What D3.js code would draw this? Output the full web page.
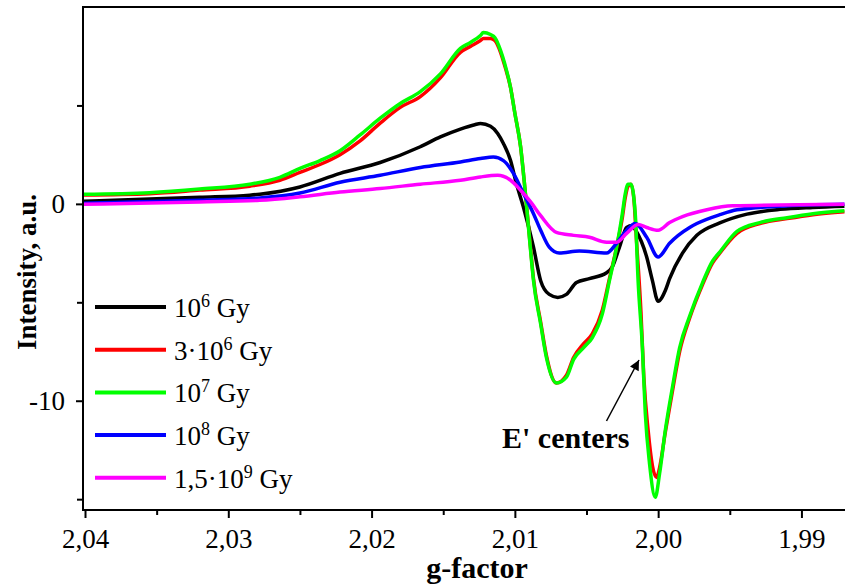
<!DOCTYPE html>
<html>
<head>
<meta charset="utf-8">
<script src="https://cdn.jsdelivr.net/npm/d3@7"></script>
<style>
  html, body { margin: 0; padding: 0; background: #fff; }
  svg { display: block; }
  text { font-family: "Liberation Serif", "Times New Roman", serif; fill: #000; }
</style>
</head>
<body>
<svg id="chart" width="845" height="588"></svg>
<script>
// ---------- data (g-factor, intensity in a.u.) ----------
const seriesNames = ["1e6", "3e6", "1e7", "1e8", "1.5e9"];
const seriesColors = ["#000000", "#ff0000", "#00ff00", "#0000ff", "#ff00ff"];

const g_1e6 = [2.0401, 2.0320, 2.0285, 2.0278, 2.0250, 2.0222, 2.0194, 2.0166, 2.0152, 2.0138, 2.0128, 2.0124, 2.0117, 2.0112, 2.0108, 2.0103, 2.0099, 2.0094, 2.0087, 2.0082, 2.0076, 2.0070, 2.0064, 2.0057, 2.0048, 2.0036, 2.0032, 2.0027, 2.0022, 2.0018, 2.0016, 2.0008, 2.0004, 2.0000, 1.9995, 1.9992, 1.9983, 1.9973, 1.9957, 1.9938, 1.9915, 1.9892, 1.9870];
const i_1e6 = [0.13, 0.33, 0.44, 0.49, 0.86, 1.55, 2.1, 2.9, 3.4, 3.8, 4.02, 4.08, 3.94, 3.58, 3.07, 2.2, 1.04, -0.17, -2.2, -3.9, -4.6, -4.75, -4.6, -4.0, -3.8, -3.5, -3.2, -2.2, -1.2, -1.1, -1.3, -2.7, -3.9, -4.95, -4.4, -3.8, -2.5, -1.6, -0.97, -0.52, -0.28, -0.18, -0.12];

const g_3e6 = [2.0401, 2.0355, 2.0320, 2.0285, 2.0264, 2.0250, 2.0236, 2.0222, 2.0208, 2.0194, 2.0180, 2.0166, 2.0152, 2.0138, 2.0131, 2.0124, 2.0122, 2.0117, 2.0114, 2.0110, 2.0107, 2.0103, 2.0100, 2.0096, 2.0093, 2.0089, 2.0087, 2.0082, 2.0078, 2.0071, 2.0064, 2.0059, 2.0052, 2.0046, 2.0039, 2.0034, 2.0029, 2.0025, 2.0023, 2.0021, 2.0019, 2.0017, 2.0015, 2.0012, 2.0010, 2.0007, 2.0004, 2.0001, 1.9999, 1.9995, 1.9990, 1.9985, 1.9978, 1.9969, 1.9962, 1.9957, 1.9945, 1.9929, 1.9910, 1.9892, 1.9870];
const i_3e6 = [0.45, 0.52, 0.7, 0.9, 1.2, 1.6, 2.0, 2.5, 3.2, 4.1, 4.9, 5.45, 6.4, 7.7, 8.0, 8.3, 8.4, 8.4, 8.3, 7.7, 7.0, 5.9, 4.6, 2.9, 0.8, -2.3, -3.8, -6.0, -7.7, -9.1, -8.7, -7.8, -7.1, -6.6, -5.4, -3.8, -2.2, -0.7, 0.3, 0.9, 1.0, 0.3, -2.0, -5.5, -8.8, -11.5, -13.3, -13.9, -13.4, -11.6, -9.5, -7.5, -5.8, -4.1, -3.0, -2.5, -1.5, -1.0, -0.75, -0.55, -0.4];

const g_1e7 = [2.0401, 2.0355, 2.0320, 2.0285, 2.0264, 2.0250, 2.0236, 2.0222, 2.0208, 2.0194, 2.0180, 2.0166, 2.0152, 2.0138, 2.0131, 2.0124, 2.0122, 2.0117, 2.0114, 2.0110, 2.0107, 2.0103, 2.0100, 2.0096, 2.0093, 2.0089, 2.0087, 2.0082, 2.0078, 2.0071, 2.0064, 2.0059, 2.0052, 2.0046, 2.0039, 2.0034, 2.0029, 2.0025, 2.0023, 2.0021, 2.0019, 2.0016, 2.0014, 2.0011, 2.0009, 2.0006, 2.0002, 1.9999, 1.9995, 1.9990, 1.9985, 1.9978, 1.9969, 1.9962, 1.9957, 1.9945, 1.9929, 1.9910, 1.9892, 1.9870];
const i_1e7 = [0.49, 0.57, 0.75, 1.0, 1.35, 1.8, 2.2, 2.7, 3.5, 4.35, 5.1, 5.7, 6.6, 7.9, 8.2, 8.55, 8.7, 8.6, 8.45, 7.8, 7.1, 5.9, 4.6, 2.9, 0.8, -2.4, -3.9, -6.1, -7.8, -9.1, -8.8, -7.9, -7.3, -6.8, -5.6, -3.9, -2.2, -0.5, 0.5, 1.0, 1.0, -0.5, -3.9, -7.3, -10.6, -13.2, -14.9, -13.7, -11.5, -9.3, -7.3, -5.7, -4.0, -2.9, -2.45, -1.4, -0.95, -0.7, -0.5, -0.35];

const g_1e8 = [2.0401, 2.0320, 2.0278, 2.0250, 2.0222, 2.0194, 2.0166, 2.0138, 2.0124, 2.0115, 2.0108, 2.0101, 2.0094, 2.0087, 2.0082, 2.0076, 2.0069, 2.0055, 2.0036, 2.0029, 2.0022, 2.0016, 2.0008, 2.0000, 1.9992, 1.9978, 1.9973, 1.9957, 1.9945, 1.9915, 1.9870];
const i_1e8 = [0.03, 0.18, 0.3, 0.55, 1.1, 1.45, 1.85, 2.13, 2.3, 2.38, 2.2, 1.55, 0.53, -0.5, -1.34, -2.2, -2.5, -2.4, -2.5, -2.0, -1.34, -1.0, -1.7, -2.7, -2.0, -1.2, -1.0, -0.55, -0.3, -0.12, -0.02];

const g_15e9 = [2.0401, 2.0320, 2.0278, 2.0250, 2.0222, 2.0194, 2.0166, 2.0138, 2.0124, 2.0112, 2.0103, 2.0096, 2.0089, 2.0082, 2.0071, 2.0059, 2.0048, 2.0036, 2.0029, 2.0022, 2.0014, 2.0008, 2.0000, 1.9992, 1.9983, 1.9966, 1.9948, 1.9870];
const i_15e9 = [-0.02, 0.1, 0.18, 0.36, 0.6, 0.78, 1.0, 1.2, 1.37, 1.45, 1.2, 0.69, 0.1, -0.6, -1.45, -1.6, -1.7, -1.95, -1.95, -1.5, -1.05, -1.2, -1.34, -0.95, -0.65, -0.3, -0.1, -0.02];

const xTicksMajor = [2.04, 2.03, 2.02, 2.01, 2.00, 1.99];
const xTicksMinor = [2.035, 2.025, 2.015, 2.005, 1.995];
const yTicksMajor = [0, -10];
const yTicksMinor = [5, -5, -15];
const xDomain = [2.04014, 1.98696];
const yDomain = [-15.55, 10];

// ---------- layout ----------
const svg = d3.select("#chart");
const L = 83, R = 845, T = 7, B = 510;
const x = d3.scaleLinear().domain(xDomain).range([L, R]);
const y = d3.scaleLinear().domain(yDomain).range([B, T]);

const series = [
  { name: seriesNames[0], color: seriesColors[0], g: g_1e6, v: i_1e6 },
  { name: seriesNames[1], color: seriesColors[1], g: g_3e6, v: i_3e6 },
  { name: seriesNames[2], color: seriesColors[2], g: g_1e7, v: i_1e7 },
  { name: seriesNames[3], color: seriesColors[3], g: g_1e8, v: i_1e8 },
  { name: seriesNames[4], color: seriesColors[4], g: g_15e9, v: i_15e9 }
];

svg.append("defs").append("clipPath").attr("id", "clip")
  .append("rect").attr("x", L).attr("y", T).attr("width", R - L + 5).attr("height", B - T);

const line = d3.line().x(d => x(d[0])).y(d => y(d[1])).curve(d3.curveMonotoneX);

const plot = svg.append("g").attr("clip-path", "url(#clip)");
series.forEach(s => {
  const pts = s.g.map((gv, i) => [gv, s.v[i]]);
  plot.append("path").datum(pts)
    .attr("d", line)
    .attr("fill", "none")
    .attr("stroke", s.color)
    .attr("stroke-width", 3.5)
    .attr("stroke-linejoin", "round");
});

// frame
svg.append("path")
  .attr("d", `M${R + 10},${T}H${L}V${B}H${R + 10}`)
  .attr("fill", "none").attr("stroke", "#000").attr("stroke-width", 2);

const fmt = v => d3.format(".2f")(v).replace(".", ",");

// x axis
const xAxis = d3.axisBottom(x).tickValues(xTicksMajor).tickSize(8).tickPadding(6).tickFormat(fmt);
const xg = svg.append("g").attr("transform", `translate(0,${B})`).call(xAxis);
xg.select(".domain").remove();
xg.selectAll(".tick line").attr("stroke-width", 2);
xg.selectAll(".tick text").style("font-size", "27px").attr("dy", "0.9em");
const xgm = svg.append("g").attr("transform", `translate(0,${B})`)
  .call(d3.axisBottom(x).tickValues(xTicksMinor).tickSize(5).tickFormat(""));
xgm.select(".domain").remove();
xgm.selectAll(".tick line").attr("stroke-width", 2);

// y axis
const yAxis = d3.axisLeft(y).tickValues(yTicksMajor).tickSize(7).tickPadding(11).tickFormat(d => d < 0 ? "-" + Math.abs(d) : d);
const yg = svg.append("g").attr("transform", `translate(${L},0)`).call(yAxis);
yg.select(".domain").remove();
yg.selectAll(".tick line").attr("stroke-width", 2);
yg.selectAll(".tick text").style("font-size", "27px");
const ygm = svg.append("g").attr("transform", `translate(${L},0)`)
  .call(d3.axisLeft(y).tickValues(yTicksMinor).tickSize(6).tickFormat(""));
ygm.select(".domain").remove();
ygm.selectAll(".tick line").attr("stroke-width", 2);

// axis titles
svg.append("text").attr("x", 477).attr("y", 578).attr("text-anchor", "middle")
  .style("font-size", "30px").style("font-weight", "bold").text("g-factor");
svg.append("text").attr("transform", "translate(36,272) rotate(-90)").attr("text-anchor", "middle")
  .style("font-size", "27px").style("font-weight", "bold").text("Intensity, a.u.");

// legend
const legendLabels = [
  [["10", false], ["6", true], [" Gy", false]],
  [["3·10", false], ["6", true], [" Gy", false]],
  [["10", false], ["7", true], [" Gy", false]],
  [["10", false], ["8", true], [" Gy", false]],
  [["1,5·10", false], ["9", true], [" Gy", false]]
];
const leg = svg.append("g");
series.forEach((s, i) => {
  const ly = 307 + i * 42.7;
  leg.append("line").attr("x1", 95).attr("x2", 166).attr("y1", ly).attr("y2", ly)
    .attr("stroke", s.color).attr("stroke-width", 4);
  const t = leg.append("text").attr("x", 174).attr("y", ly + 10).style("font-size", "27px");
  legendLabels[i].forEach(([txt, sup]) => {
    const ts = t.append("tspan").text(txt).style("white-space", "pre");
    if (sup) ts.style("font-size", "18px").attr("dy", -10);
    else if (txt.startsWith(" ")) ts.attr("dy", 10);
  });
});

// annotation
svg.append("defs").append("marker").attr("id", "arrow")
  .attr("viewBox", "0 0 10 10").attr("refX", 10).attr("refY", 5)
  .attr("markerWidth", 12).attr("markerHeight", 10).attr("markerUnits", "userSpaceOnUse")
  .attr("orient", "auto")
  .append("path").attr("d", "M0,0L10,5L0,10Z").attr("fill", "#000");
svg.append("line").attr("x1", 606.5).attr("y1", 421).attr("x2", 639).attr("y2", 360)
  .attr("stroke", "#000").attr("stroke-width", 1.5).attr("marker-end", "url(#arrow)");
svg.append("text").attr("x", 502).attr("y", 448).style("font-size", "30px").style("font-weight", "bold")
  .text("E' centers");
</script>
</body>
</html>
